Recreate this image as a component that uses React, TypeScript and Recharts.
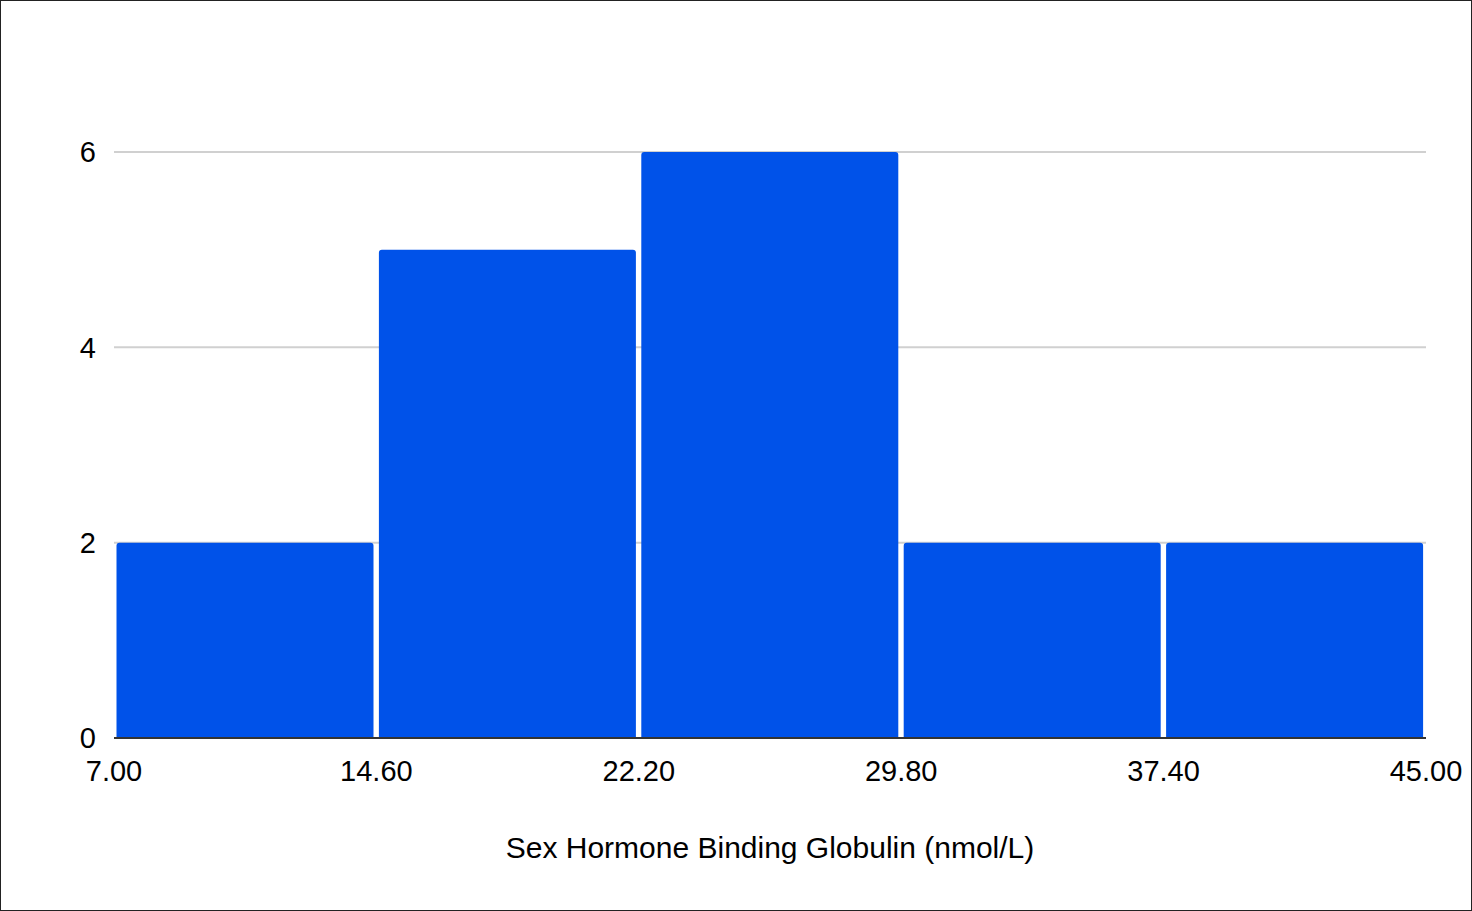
import React from 'react'
import { BarChart, Bar, XAxis, YAxis, CartesianGrid } from 'recharts'

const BINS = ['7.00-14.60', '14.60-22.20', '22.20-29.80', '29.80-37.40', '37.40-45.00']
const CONTAGENS = [2, 5, 6, 2, 2]
const LIMITES = [7, 14.6, 22.2, 29.8, 37.4, 45]
const TICKS_Y = [0, 2, 4, 6]

const dados = BINS.map((b, i) => ({ bin: b, freq: CONTAGENS[i] }))

const FONTE = '"Liberation Sans", Arial, sans-serif'

// rótulos nas bordas de cada classe, não no centro
const TickLimite = (props: any) => {
  const { x, y, index, width } = props
  const meia = width / BINS.length / 2
  const estilo = { fill: '#000', fontSize: 29, fontFamily: FONTE }
  return (
    <g>
      <text x={x - meia} y={y} dy="0.71em" textAnchor="middle" {...estilo}>
        {LIMITES[index].toFixed(2)}
      </text>
      {index === BINS.length - 1 && (
        <text x={x + meia} y={y} dy="0.71em" textAnchor="middle" {...estilo}>
          {LIMITES[index + 1].toFixed(2)}
        </text>
      )}
    </g>
  )
}

const App: React.FC = () => {
  return (
    <div style={{ width: 1470, height: 909, border: '1px solid #222', background: '#fff', fontFamily: FONTE }}>
      <style>{`body{margin:0} svg{overflow:visible}`}</style>
      <BarChart
        width={1470}
        height={909}
        data={dados}
        margin={{ top: 151, right: 45, bottom: 52, left: 53 }}
        barCategoryGap={2.5}
      >
        <CartesianGrid vertical={false} stroke="#d0d0d0" strokeWidth={2} />
        <XAxis
          dataKey="bin"
          interval={0}
          height={120}
          stroke="#333"
          strokeWidth={2}
          tickLine={false}
          tickMargin={16}
          tick={<TickLimite />}
          label={{ value: 'Sex Hormone Binding Globulin (nmol/L)', position: 'insideBottom', offset: 0, fill: '#000', fontSize: 30, fontFamily: FONTE }}
        />
        <YAxis
          domain={[0, 6]}
          ticks={TICKS_Y}
          width={60}
          axisLine={false}
          tickLine={false}
          tickMargin={12}
          tick={{ fill: '#000', fontSize: 29, fontFamily: FONTE }}
        />
        <Bar dataKey="freq" fill="#0052e9" radius={[3, 3, 0, 0]} isAnimationActive={false} />
      </BarChart>
    </div>
  )
}

export default App
